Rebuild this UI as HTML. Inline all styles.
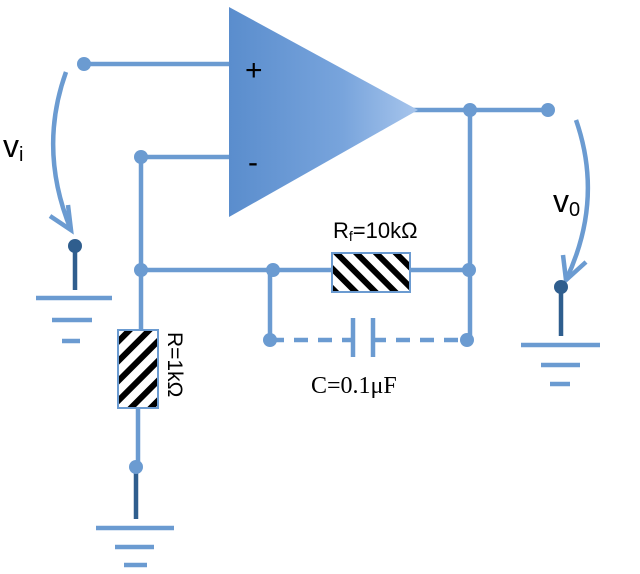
<!DOCTYPE html>
<html><head><meta charset="utf-8"><style>
html,body{margin:0;padding:0;background:#fff;width:640px;height:574px;overflow:hidden}
svg{display:block}
text{font-family:"Liberation Sans",sans-serif}
</style></head><body>
<svg width="640" height="574" viewBox="0 0 640 574">
<defs>
<linearGradient id="g" x1="0" x2="1" y1="0" y2="0"><stop offset="0" stop-color="#5a8dcd"/><stop offset="0.6" stop-color="#78a4dc"/><stop offset="1" stop-color="#a7c5ec"/></linearGradient>
<pattern id="h" width="14" height="14" patternUnits="userSpaceOnUse" patternTransform="rotate(-45)"><rect width="14" height="14" fill="#fff"/><rect width="6" height="14" fill="#000"/></pattern>
<pattern id="h2" width="14" height="14" patternUnits="userSpaceOnUse" patternTransform="rotate(45)"><rect width="14" height="14" fill="#fff"/><rect width="6" height="14" fill="#000"/></pattern>
</defs>
<g stroke="#6b9bd1" stroke-width="4.5" fill="none">
<line x1="84" y1="64" x2="230" y2="64"/>
<line x1="141" y1="157" x2="230" y2="157"/>
<line x1="141" y1="157" x2="141" y2="330"/>
<line x1="138" y1="408" x2="138" y2="467"/>
<line x1="141" y1="270" x2="470" y2="270"/>
<line x1="270" y1="270" x2="270" y2="340"/>
<line x1="470" y1="110" x2="470" y2="340"/>
<line x1="410" y1="110" x2="548" y2="110"/>
<line x1="270" y1="340" x2="352" y2="340" stroke-dasharray="14,10"/>
<line x1="372" y1="340" x2="468" y2="340" stroke-dasharray="14,10"/>
<line x1="353" y1="318" x2="353" y2="357"/>
<line x1="373" y1="318" x2="373" y2="357"/>
<line x1="36" y1="298" x2="112" y2="298"/><line x1="52" y1="320" x2="92" y2="320"/><line x1="62" y1="341" x2="80" y2="341"/>
<line x1="96" y1="528" x2="174" y2="528"/><line x1="115" y1="547" x2="154" y2="547"/><line x1="124" y1="565" x2="147" y2="565"/>
<line x1="521" y1="345" x2="600" y2="345"/><line x1="541" y1="365" x2="580" y2="365"/><line x1="550" y1="384" x2="570" y2="384"/>
<path d="M66,72 Q38,150 71,230"/><path d="M50,216 L71,230 L68,205"/>
<path d="M576,120 Q604,200 566,280"/><path d="M586,262 L566,280 L563,255"/>
</g>
<g stroke="#2f5e8e" stroke-width="4.5">
<line x1="75" y1="246" x2="75" y2="290"/>
<line x1="136" y1="467" x2="136" y2="519"/>
<line x1="561" y1="287" x2="561" y2="336"/>
</g>
<g fill="#6b9bd1">
<circle cx="84" cy="64" r="7"/><circle cx="141" cy="157" r="7"/><circle cx="141" cy="270" r="7"/>
<circle cx="273" cy="270" r="7"/><circle cx="469" cy="270" r="7"/><circle cx="270" cy="340" r="7"/>
<circle cx="467" cy="340" r="7"/><circle cx="470" cy="110" r="7"/><circle cx="548" cy="110" r="7"/>
<circle cx="136" cy="467" r="7"/>
</g>
<g fill="#2f5e8e"><circle cx="75" cy="246" r="7"/><circle cx="561" cy="287" r="7"/></g>
<polygon points="229,7 418,110 229,217" fill="url(#g)"/>
<text x="245" y="80" font-size="30">+</text>
<text x="248" y="172" font-size="30">-</text>
<rect x="332" y="253" width="78" height="39" fill="url(#h)" stroke="#6b9bd1" stroke-width="2"/>
<rect x="118" y="330" width="40" height="78" fill="url(#h2)" stroke="#6b9bd1" stroke-width="2"/>
<text x="333" y="238" font-size="22">R<tspan font-size="14" dy="3">f</tspan><tspan dy="-3">=10kΩ</tspan></text>
<text x="168" y="332" font-size="21" transform="rotate(90 168 332)">R=1kΩ</text>
<text x="311" y="393" font-size="24" style="font-family:'Liberation Serif',serif">C=0.1μF</text>
<text x="3" y="157" font-size="32">v<tspan font-size="20" dy="4">i</tspan></text>
<text x="553" y="212" font-size="32">v<tspan font-size="20" dy="4">0</tspan></text>
</svg>
</body></html>
